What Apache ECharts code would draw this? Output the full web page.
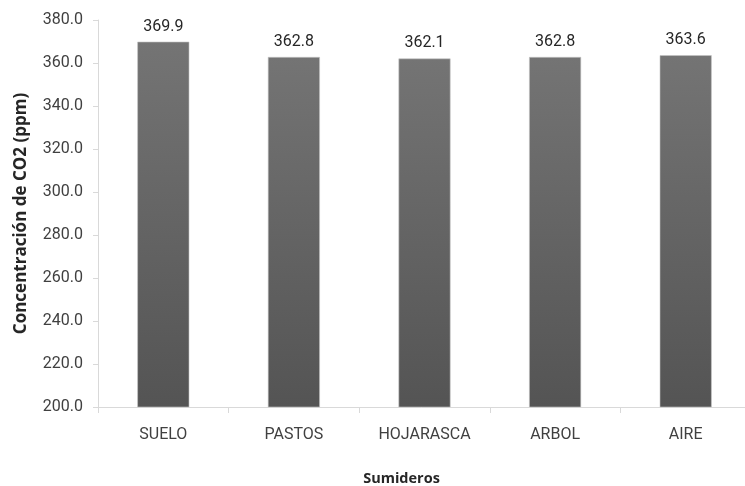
<!DOCTYPE html>
<html>
<head>
<meta charset="utf-8">
<script src="https://cdn.jsdelivr.net/npm/echarts@6/dist/echarts.min.js"></script>
<style>html,body{margin:0;padding:0;background:#fff}#c{width:745px;height:486px}</style>
</head>
<body>
<div id="c"></div>
<script>
const categories = ["SUELO", "PASTOS", "HOJARASCA", "ARBOL", "AIRE"];
const values = [369.9, 362.8, 362.1, 362.8, 363.6];
const yTitle = "Concentración de CO2 (ppm)";
const xTitle = "Sumideros";

const chart = echarts.init(document.getElementById('c'), null, {renderer: 'canvas'});
const labelFont = "Roboto, 'Open Sans', sans-serif";
chart.setOption({
  animation: false,
  grid: {left: 98, right: -6, top: 20, bottom: 79, containLabel: false, outerBoundsMode: 'none'},
  xAxis: {
    type: 'category',
    data: categories,
    name: xTitle,
    nameLocation: 'middle',
    nameGap: 64,
    nameTextStyle: {fontFamily: "'Open Sans', sans-serif", fontWeight: 'bold', fontSize: 14.5, color: '#262626',
      padding: [0, 46, 0, 0]},
    axisLine: {lineStyle: {color: '#d9d9d9', width: 1}},
    axisTick: {show: true, alignWithLabel: false, length: 6, lineStyle: {color: '#d9d9d9'}},
    axisLabel: {fontFamily: labelFont, fontSize: 16, color: '#404040', margin: 20}
  },
  yAxis: {
    type: 'value',
    min: 200, max: 380, interval: 20,
    name: yTitle,
    nameLocation: 'middle',
    nameGap: 68,
    nameRotate: 90,
    nameTextStyle: {fontFamily: "'Open Sans', sans-serif", fontWeight: 'bold', fontSize: 17, color: '#262626'},
    axisLine: {show: true, lineStyle: {color: '#d9d9d9', width: 1}},
    axisTick: {show: true, length: 5, lineStyle: {color: '#d9d9d9'}},
    splitLine: {show: false},
    axisLabel: {fontFamily: labelFont, fontSize: 16, color: '#404040', margin: 15,
      formatter: v => v.toFixed(1)}
  },
  series: [{
    type: 'bar',
    data: values,
    barWidth: 52,
    itemStyle: {
      color: new echarts.graphic.LinearGradient(0, 0, 0, 1, [
        {offset: 0, color: '#747474'},
        {offset: 1, color: '#545454'}
      ]),
      borderColor: '#c4c4c4', borderWidth: 0.6
    },
    label: {show: true, position: 'top', distance: 7, fontFamily: labelFont, fontSize: 16, color: '#262626',
      formatter: p => p.value.toFixed(1)}
  }]
});
</script>
</body>
</html>
